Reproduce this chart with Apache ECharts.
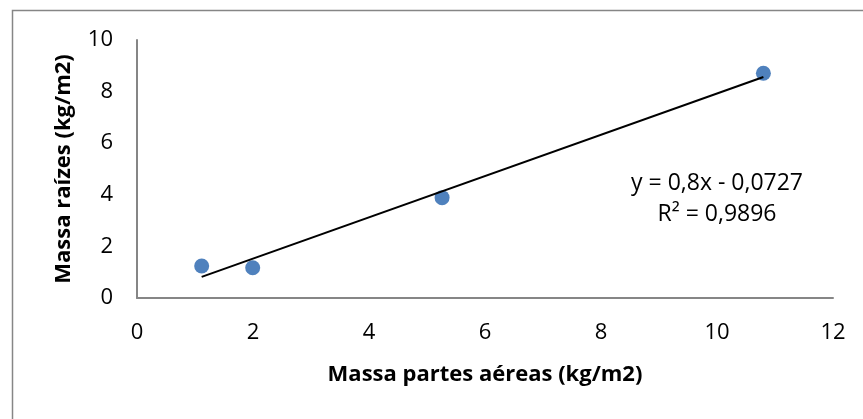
<!DOCTYPE html>
<html>
<head>
<meta charset="utf-8">
<script src="https://cdn.jsdelivr.net/npm/echarts@6/dist/echarts.min.js"></script>
<style>
  html, body { margin: 0; padding: 0; background: #fff; }
  #chart { width: 863px; height: 419px; }
</style>
</head>
<body>
<div id="chart"></div>
<script>
// Aerial biomass (x) vs. root biomass (y), kg/m2
const massaAerea = [1.115, 1.995, 5.26, 10.8];
const massaRaizes = [1.24, 1.17, 3.89, 8.71];

// Linear trendline coefficients and fit quality
const slope = 0.8;
const intercept = -0.0727;
const r2 = 0.9896;

const xTicks = [0, 2, 4, 6, 8, 10, 12];
const yTicks = [0, 2, 4, 6, 8, 10];

const fmt = v => String(v).replace('.', ',');
const points = massaAerea.map((x, i) => [x, massaRaizes[i]]);
const xMin = Math.min(...massaAerea);
const xMax = Math.max(...massaAerea);
const trend = [xMin, xMax].map(x => [x, slope * x + intercept]);

const font = '"Open Sans", sans-serif';
const axisGray = '#868686';

const eqStyle = (text) => ({
  text: text,
  font: '23px ' + font,
  fill: '#000',
  align: 'center',
  verticalAlign: 'middle'
});

const chart = echarts.init(document.getElementById('chart'), null, { renderer: 'canvas' });
chart.setOption({
  animation: false,
  backgroundColor: '#ffffff',
  grid: { left: 137, right: 30, top: 40, bottom: 121 },
  graphic: [
    {
      type: 'rect',
      shape: { x: 12.5, y: 10.5, width: 900, height: 500 },
      style: { fill: 'none', stroke: axisGray, lineWidth: 1.5 },
      z: -1
    },
    {
      type: 'text',
      x: 717, y: 183,
      style: eqStyle('y = ' + fmt(slope) + 'x - ' + fmt(Math.abs(intercept)))
    },
    {
      type: 'text',
      x: 717, y: 214,
      style: eqStyle('R² = ' + fmt(r2))
    }
  ],
  xAxis: {
    type: 'value',
    min: xTicks[0], max: xTicks[xTicks.length - 1], interval: 2,
    name: 'Massa partes aéreas (kg/m2)',
    nameLocation: 'middle',
    nameGap: 66,
    nameTextStyle: { fontFamily: font, fontSize: 22, fontWeight: 'bold', color: '#000' },
    axisLine: { show: true, lineStyle: { color: axisGray, width: 2 } },
    axisTick: { show: false },
    splitLine: { show: false },
    axisLabel: { fontFamily: font, fontSize: 22, color: '#000', margin: 24 }
  },
  yAxis: {
    type: 'value',
    min: yTicks[0], max: yTicks[yTicks.length - 1], interval: 2,
    name: 'Massa raízes (kg/m2)',
    nameLocation: 'middle',
    nameGap: 62,
    nameTextStyle: { fontFamily: font, fontSize: 22, fontWeight: 'bold', color: '#000' },
    axisLine: { show: true, lineStyle: { color: axisGray, width: 2 } },
    axisTick: { show: false },
    splitLine: { show: false },
    axisLabel: { fontFamily: font, fontSize: 22, color: '#000', margin: 24 }
  },
  series: [
    {
      type: 'line',
      data: trend,
      symbol: 'none',
      lineStyle: { color: '#000', width: 2 },
      z: 3
    },
    {
      type: 'scatter',
      data: points,
      symbolSize: 15,
      itemStyle: { color: '#4F81BD', opacity: 1 },
      z: 2
    }
  ]
});
</script>
</body>
</html>
